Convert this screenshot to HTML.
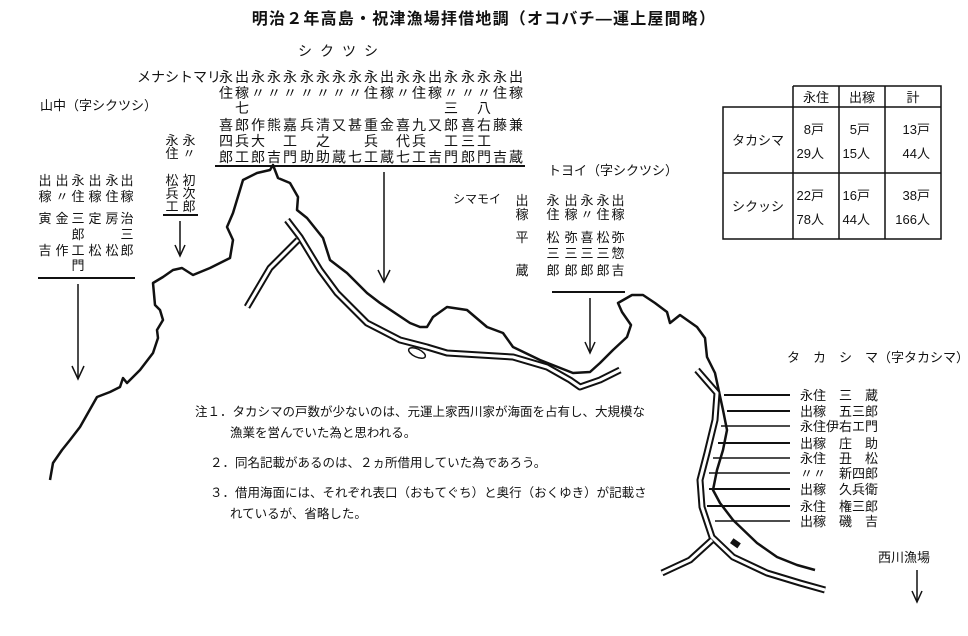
<!DOCTYPE html>
<html><head><meta charset="utf-8"><style>
html,body{margin:0;padding:0;background:#fff}
svg{display:block}
text{font-family:"Liberation Sans","Noto Sans CJK JP",sans-serif;fill:#111}
</style></head><body>
<svg width="968" height="636" viewBox="0 0 968 636" xmlns="http://www.w3.org/2000/svg">
<rect width="968" height="636" fill="#fff"/>
<text x="484" y="24" text-anchor="middle" font-size="16" font-weight="bold" letter-spacing="1.2">明治２年高島・祝津漁場拝借地調（オコバチ—運上屋間略）</text>
<text x="342" y="56" text-anchor="middle" font-size="14" letter-spacing="8">シクツシ</text>

<!-- top group -->
<g font-size="14" text-anchor="middle">
<text x="179" y="82">メナシトマリ</text>
<text x="226 242 258 274 290 307 323 339 355 371 387 403 419 435 451 468 484 500 516" y="82">永出永永永永永永永永出永永出永永永永出</text>
<text x="226 242 258 274 290 307 323 339 355 371 387 403 419 435 451 468 484 500 516" y="98">住稼〃〃〃〃〃〃〃住稼〃住稼〃〃〃住稼</text>
<text x="242 451 484" y="113">七三八</text>
<text x="226 242 258 274 290 307 323 339 355 371 387 403 419 435 451 468 484 500 516" y="130">喜郎作熊嘉兵清又甚重金喜九又郎喜右藤兼</text>
<text x="226 242 258 290 323 371 403 419 451 468 484" y="146">四兵大工之兵代兵工三工</text>
<text x="226 242 258 274 290 307 323 339 355 371 387 403 419 435 451 468 484 500 516" y="162">郎工郎吉門助助蔵七工蔵七工吉門郎門吉蔵</text>
</g>
<line x1="215" y1="166" x2="525" y2="166" stroke="#111" stroke-width="2"/>
<line x1="384" y1="172" x2="384" y2="280" stroke="#111" stroke-width="1.5"/>
<path d="M378 270 L384 282 L390 270" fill="none" stroke="#111" stroke-width="1.5"/>

<!-- left group -->
<text x="40" y="110" font-size="13">山中（字シクツシ）</text>
<g font-size="13" text-anchor="middle">
<text x="45 62 78 95 112 127" y="185">出出永出永出</text>
<text x="45 62 78 95 112 127" y="201">稼〃住稼住稼</text>
<text x="45 62 78 95 112 127" y="223">寅金三定房治</text>
<text x="78 127" y="239">郎三</text>
<text x="45 62 78 95 112 127" y="255">吉作工松松郎</text>
<text x="78" y="270">門</text>
</g>
<line x1="38" y1="278" x2="135" y2="278" stroke="#111" stroke-width="2"/>
<line x1="78" y1="284" x2="78" y2="377" stroke="#111" stroke-width="1.5"/>
<path d="M72 366 L78 379 L84 366" fill="none" stroke="#111" stroke-width="1.5"/>

<g font-size="13" text-anchor="middle">
<text x="172 189" y="145">永永</text>
<text x="172 189" y="158">住〃</text>
<text x="172 189" y="185">松初</text>
<text x="172 189" y="198">兵次</text>
<text x="172 189" y="211">工郎</text>
</g>
<line x1="163" y1="215" x2="198" y2="215" stroke="#111" stroke-width="2"/>
<line x1="180" y1="221" x2="180" y2="255" stroke="#111" stroke-width="1.5"/>
<path d="M175 245 L180 256 L185 245" fill="none" stroke="#111" stroke-width="1.5"/>

<!-- toyoi group -->
<text x="548" y="175" font-size="13">トヨイ（字シクツシ）</text>
<text x="453" y="203" font-size="12">シマモイ</text>
<g font-size="13" text-anchor="middle">
<text x="522 553 571 587 603 618" y="205">出永出永永出</text>
<text x="522 553 571 587 603 618" y="219">稼住稼〃住稼</text>
<text x="522 553 571 587 603 618" y="242">平松弥喜松弥</text>
<text x="553 571 587 603 618" y="258">三三三三惣</text>
<text x="522 553 571 587 603 618" y="275">蔵郎郎郎郎吉</text>
</g>
<line x1="552" y1="292" x2="625" y2="292" stroke="#111" stroke-width="2"/>
<line x1="590" y1="298" x2="590" y2="352" stroke="#111" stroke-width="1.5"/>
<path d="M585 342 L590 353 L595 342" fill="none" stroke="#111" stroke-width="1.5"/>

<!-- table -->
<g stroke="#111" stroke-width="1.5" fill="none">
<path d="M793 86 H941 V239 H723 V107 H941 M723 173 H941 M793 86 V239 M839 86 V239 M885 86 V239"/>
</g>
<g font-size="13" text-anchor="middle">
<text x="816" y="102">永住</text><text x="862" y="102">出稼</text><text x="913" y="102">計</text>
<text x="758" y="145">タカシマ</text><text x="758" y="211">シクッシ</text>
<text x="824" y="134" text-anchor="end">8戸</text><text x="870" y="134" text-anchor="end">5戸</text><text x="930" y="134" text-anchor="end">13戸</text>
<text x="824" y="158" text-anchor="end">29人</text><text x="870" y="158" text-anchor="end">15人</text><text x="930" y="158" text-anchor="end">44人</text>
<text x="824" y="200" text-anchor="end">22戸</text><text x="870" y="200" text-anchor="end">16戸</text><text x="930" y="200" text-anchor="end">38戸</text>
<text x="824" y="224" text-anchor="end">78人</text><text x="870" y="224" text-anchor="end">44人</text><text x="930" y="224" text-anchor="end">166人</text>
</g>

<!-- coastlines -->
<g fill="none" stroke="#111" stroke-width="2.5" stroke-linejoin="round">
<path d="M50 480 L53 463 L62 450 L70 440 L80 427 L97 397 L110 392 L120 387 L123 378 L127 383 L140 370 L153 353 L158 338 L157 330 L163 320 L160 310 L155 305 L153 283 L163 277 L173 270 L182 268 L193 275 L210 268 L230 258 L233 240 L227 227 L233 213 L243 180 L257 173 L270 170 L273 165 L278 178 L290 183 L298 197 L297 210 L307 218 L323 238 L330 260 L347 273 L367 293 L380 303 L410 323 L420 327 L427 327 L433 317 L447 307 L467 310 L487 327 L503 333 L513 347 L540 360 L573 373 L590 372 L600 363 L613 350 L627 337 L631 325 L622 312 L618 303 L632 295 L643 295 L655 303 L667 312 L670 323 L680 315 L697 327 L705 338 L707 357 L715 373 L718 387 L723 410 L727 430 L723 450 L717 470 L713 490 L720 503 L733 520 L757 543 L777 557 L797 565 L815 570"/>
</g>
<!-- roads -->
<g fill="none" stroke-linejoin="round" stroke-linecap="butt">
<g stroke="#111" stroke-width="7">
<path d="M287 220 L300 237 L320 270 L337 293 L367 323 L400 340 L427 347 L447 353 L513 357 L547 367 L570 380 L580 387 L600 380 L620 370"/>
<path d="M298 240 L270 268 L247 307"/>
<path d="M697 370 L717 393 L715 420 L707 453 L700 480 L702 507 L712 537 L733 557 L767 573 L800 583 L825 590"/>
<path d="M712 540 L690 560 L662 573"/>
</g>
<g stroke="#fff" stroke-width="3">
<path d="M287 220 L300 237 L320 270 L337 293 L367 323 L400 340 L427 347 L447 353 L513 357 L547 367 L570 380 L580 387 L600 380 L620 370"/>
<path d="M298 240 L270 268 L247 307"/>
<path d="M697 370 L717 393 L715 420 L707 453 L700 480 L702 507 L712 537 L733 557 L767 573 L800 583 L825 590"/>
<path d="M712 540 L690 560 L662 573"/>
</g>
</g>
<ellipse cx="417" cy="353" rx="9" ry="4" fill="#fff" stroke="#111" stroke-width="1.5" transform="rotate(25 417 353)"/>
<rect x="731" y="540" width="9" height="6" fill="#111" transform="rotate(35 735 543)"/>

<!-- notes -->
<g font-size="12.5">
<text x="195" y="416">注１．タカシマの戸数が少ないのは、元運上家西川家が海面を占有し、大規模な</text>
<text x="230" y="437">漁業を営んでいた為と思われる。</text>
<text x="210" y="467">２．同名記載があるのは、２ヵ所借用していた為であろう。</text>
<text x="210" y="497">３．借用海面には、それぞれ表口（おもてぐち）と奥行（おくゆき）が記載さ</text>
<text x="230" y="518">れているが、省略した。</text>
</g>

<!-- takashima -->
<text x="787" y="362" font-size="13">タ　カ　シ　マ（字タカシマ）</text>
<g stroke="#111" stroke-width="2">
<line x1="724" y1="395" x2="790" y2="395"/>
<line x1="727" y1="411" x2="790" y2="411"/>
<line x1="721" y1="426" x2="790" y2="426" stroke-width="1.5"/>
<line x1="718" y1="443" x2="790" y2="443"/>
<line x1="713" y1="458" x2="790" y2="458" stroke-width="1.5"/>
<line x1="709" y1="473" x2="790" y2="473" stroke-width="1.5"/>
<line x1="709" y1="489" x2="790" y2="489"/>
<line x1="707" y1="506" x2="790" y2="506"/>
<line x1="715" y1="521" x2="790" y2="521" stroke-width="1.5"/>
</g>
<g font-size="13">
<text x="800" y="400">永住　三　蔵</text>
<text x="800" y="416">出稼　五三郎</text>
<text x="800" y="431">永住伊右エ門</text>
<text x="800" y="448">出稼　庄　助</text>
<text x="800" y="463">永住　丑　松</text>
<text x="800" y="478">〃〃　新四郎</text>
<text x="800" y="494">出稼　久兵衛</text>
<text x="800" y="511">永住　権三郎</text>
<text x="800" y="526">出稼　磯　吉</text>
</g>
<text x="878" y="562" font-size="13">西川漁場</text>
<line x1="917" y1="570" x2="917" y2="600" stroke="#111" stroke-width="1.5"/>
<path d="M912 591 L917 602 L922 591" fill="none" stroke="#111" stroke-width="1.5"/>
</svg>
</body></html>
